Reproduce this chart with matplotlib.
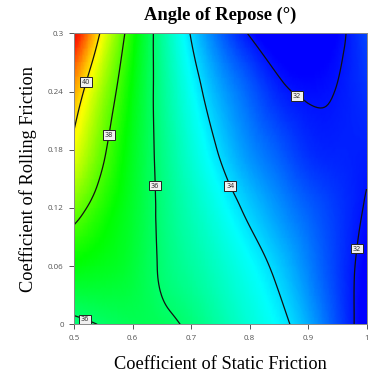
import numpy as np
import matplotlib
matplotlib.use('Agg')
import matplotlib.pyplot as plt
import matplotlib.tri as mtri
from matplotlib.colors import LinearSegmentedColormap

# ---- data: angle of repose (deg) ----------------------------------------------------
static_mu = [0.50, 0.55, 0.60, 0.65, 0.70, 0.75, 0.80, 0.85, 0.90, 0.95, 1.00]
rolling_mu = [0.00, 0.06, 0.12, 0.18, 0.24, 0.30]
repose = [
    [35.80, 36.05, 36.25, 36.18, 35.85, 35.30, 34.75, 34.25, 33.50, 32.55, 31.60],  # 0.00
    [37.10, 36.90, 36.55, 35.90, 35.40, 34.90, 34.37, 33.80, 33.10, 32.40, 31.75],  # 0.06
    [38.40, 37.50, 36.70, 35.82, 35.10, 34.45, 33.82, 33.25, 32.75, 32.35, 31.95],  # 0.12
    [39.70, 38.15, 36.85, 35.72, 34.75, 33.91, 33.20, 32.70, 32.25, 32.13, 32.10],  # 0.18
    [40.60, 38.75, 37.08, 35.60, 34.40, 33.45, 32.75, 32.15, 31.93, 32.02, 32.30],  # 0.24
    [42.30, 39.70, 37.43, 35.48, 33.95, 32.80, 31.95, 31.52, 31.48, 31.82, 32.50],  # 0.30
]
line_levels = [32, 34, 36, 38, 40]
label_pos = [(0.520, 0.250), (0.561, 0.195), (0.637, 0.143), (0.768, 0.143),
             (0.879, 0.233), (0.982, 0.078), (0.520, 0.007)]
xticks = [0.5, 0.6, 0.7, 0.8, 0.9, 1.0]
xtick_labels = ['0.5', '0.6', '0.7', '0.8', '0.9', '1']
yticks = [0, 0.06, 0.12, 0.18, 0.24, 0.30]
ytick_labels = ['0', '0.06', '0.12', '0.18', '0.24', '0.3']

# colour ramp anchors (value -> colour), Design-Expert style
ramp_vals = [31.8, 34.3, 37.2, 39.8, 41.8, 43.0]
ramp_cols = ['#0000ff', '#00ffff', '#00ff00', '#ffff00', '#ff2000', '#c00000']

# ---- smooth the table with matplotlib's cubic tri-refiner ---------------------------
X, Y = np.meshgrid(static_mu, rolling_mu)
Z = np.array(repose)
tri = mtri.Triangulation(X.ravel(), Y.ravel())
tri_f, z_f = mtri.UniformTriRefiner(tri).refine_field(Z.ravel(), subdiv=4)

vmin, vmax = ramp_vals[0], ramp_vals[-1]
cmap = LinearSegmentedColormap.from_list(
    'de', [((v - vmin) / (vmax - vmin), c) for v, c in zip(ramp_vals, ramp_cols)], N=512)

fig = plt.figure(figsize=(3.74, 3.75), dpi=100)
a = fig.add_axes([0.198, 0.135, 0.782, 0.776])
a.tripcolor(tri_f, z_f, shading='gouraud', cmap=cmap, vmin=vmin, vmax=vmax)
cs = a.tricontour(tri_f, z_f, levels=line_levels, colors='#111111', linewidths=0.9)
a.clabel(cs, manual=label_pos, fmt='%d', fontsize=4.8, inline=False)
for t in cs.labelTexts:
    t.set_rotation(0)
    t.set_color('#333333')
    t.set_bbox(dict(boxstyle='square,pad=0.25', fc='#f0f0f0', ec='#222222', lw=0.7))
    t.set_zorder(5)

a.set_xlim(0.5, 1.0); a.set_ylim(0, 0.3)
a.set_xticks(xticks, xtick_labels)
a.set_yticks(yticks, ytick_labels)
a.tick_params(direction='out', length=3.5, width=0.7, colors='#555555',
              labelsize=5.8, pad=4)
for lab in a.get_xticklabels() + a.get_yticklabels():
    lab.set_family('Open Sans')
for sp in a.spines.values():
    sp.set_color('#888888'); sp.set_linewidth(0.7)

serif = 'Liberation Serif'
a.set_title('Angle of Repose (°)', family=serif, fontweight='bold', fontsize=13.3,
            pad=10)
a.set_xlabel('Coefficient of Static Friction', family=serif, fontsize=13.2, labelpad=10)
a.set_ylabel('Coefficient of Rolling Friction', family=serif, fontsize=13.2, labelpad=8)

fig.savefig('out.png', dpi=100, facecolor='white')
